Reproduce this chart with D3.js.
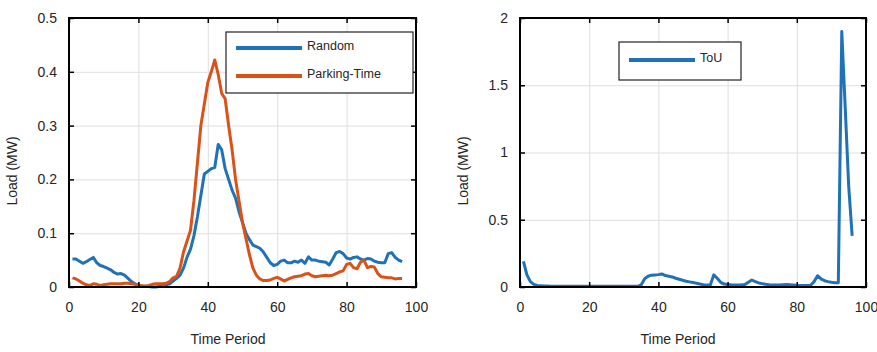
<!DOCTYPE html>
<html>
<head>
<meta charset="utf-8">
<script src="https://cdn.jsdelivr.net/npm/d3@7"></script>
<style>
  body { margin: 0; background: #fff; }
  svg { display: block; font-family: "Liberation Sans", Arial, sans-serif; }
  .tick text { fill: #262626; font-size: 14px; }
  .grid line { stroke: #dfdfdf; stroke-width: 1; }
  .grid path { display: none; }
</style>
</head>
<body>
<div id="chart"></div>
<script>
// time periods 1..96
const periods = d3.range(1, 97);

const randomLoad = [
  0.052, 0.052, 0.048, 0.044, 0.047, 0.051, 0.055, 0.045, 0.040, 0.038,
  0.035, 0.032, 0.027, 0.024, 0.025, 0.022, 0.016, 0.010, 0.006, 0.003,
  0.002, 0.001, 0.001, 0.000, 0.000, 0.001, 0.001, 0.004, 0.006, 0.011,
  0.016, 0.022, 0.035, 0.055, 0.070, 0.095, 0.130, 0.170, 0.210, 0.215,
  0.220, 0.222, 0.265, 0.255, 0.220, 0.200, 0.180, 0.165, 0.140, 0.120,
  0.100, 0.088, 0.078, 0.075, 0.072, 0.065, 0.055, 0.045, 0.040, 0.042,
  0.048, 0.050, 0.045, 0.045, 0.048, 0.046, 0.050, 0.044, 0.056, 0.050,
  0.050, 0.048, 0.047, 0.046, 0.041, 0.052, 0.064, 0.066, 0.062, 0.054,
  0.052, 0.055, 0.056, 0.052, 0.050, 0.053, 0.052, 0.048, 0.046, 0.045,
  0.045, 0.062, 0.064, 0.055, 0.050, 0.047
];

const parkingLoad = [
  0.017, 0.015, 0.011, 0.007, 0.004, 0.003, 0.006, 0.005, 0.003, 0.004,
  0.005, 0.006, 0.006, 0.006, 0.006, 0.007, 0.007, 0.006, 0.005, 0.004,
  0.002, 0.002, 0.003, 0.005, 0.006, 0.006, 0.006, 0.007, 0.010, 0.017,
  0.020, 0.035, 0.065, 0.085, 0.105, 0.160, 0.230, 0.300, 0.340, 0.380,
  0.400, 0.422, 0.395, 0.360, 0.350, 0.300, 0.255, 0.200, 0.160, 0.120,
  0.090, 0.060, 0.035, 0.022, 0.015, 0.012, 0.012, 0.013, 0.016, 0.018,
  0.015, 0.011, 0.014, 0.017, 0.019, 0.020, 0.021, 0.024, 0.025, 0.021,
  0.019, 0.020, 0.021, 0.022, 0.021, 0.022, 0.025, 0.028, 0.030, 0.042,
  0.044, 0.036, 0.034, 0.046, 0.050, 0.036, 0.038, 0.037, 0.025, 0.019,
  0.018, 0.017, 0.017, 0.015, 0.016, 0.016
];

const touLoad = [
  0.190, 0.090, 0.040, 0.020, 0.012, 0.010, 0.008, 0.007, 0.006, 0.006,
  0.006, 0.006, 0.005, 0.005, 0.005, 0.005, 0.005, 0.005, 0.005, 0.005,
  0.005, 0.005, 0.005, 0.005, 0.005, 0.005, 0.005, 0.005, 0.005, 0.005,
  0.005, 0.005, 0.005, 0.005, 0.015, 0.060, 0.080, 0.088, 0.090, 0.092,
  0.097, 0.085, 0.080, 0.075, 0.065, 0.058, 0.050, 0.043, 0.038, 0.033,
  0.028, 0.022, 0.017, 0.014, 0.015, 0.090, 0.065, 0.035, 0.022, 0.018,
  0.016, 0.015, 0.015, 0.016, 0.018, 0.035, 0.052, 0.040, 0.030, 0.025,
  0.020, 0.017, 0.015, 0.014, 0.014, 0.016, 0.018, 0.017, 0.015, 0.013,
  0.012, 0.012, 0.012, 0.013, 0.040, 0.084, 0.060, 0.047, 0.040, 0.035,
  0.032, 0.032, 1.900, 1.330, 0.750, 0.380
];

const xTicks = [0, 20, 40, 60, 80, 100];
const yTicksLeft = [0, 0.1, 0.2, 0.3, 0.4, 0.5];
const yTicksRight = [0, 0.5, 1, 1.5, 2];

const blue = '#1f72b8';
const orange = '#d95319';

const svg = d3.select('#chart').append('svg')
  .attr('width', 877)
  .attr('height', 352);

function drawPanel(opt) {
  const w = opt.right - opt.left;
  const h = opt.bottom - opt.top;
  const g = svg.append('g').attr('transform', `translate(${opt.left},${opt.top})`);

  const x = d3.scaleLinear().domain([0, 100]).range([0, w]);
  const y = d3.scaleLinear().domain(opt.yDomain).range([h, 0]);

  // grid
  g.append('g').attr('class', 'grid')
    .attr('transform', `translate(0,${h})`)
    .call(d3.axisBottom(x).tickValues(xTicks).tickSize(-h).tickFormat(''));
  g.append('g').attr('class', 'grid')
    .call(d3.axisLeft(y).tickValues(opt.yTicks).tickSize(-w).tickFormat(''));

  // lines
  const line = d3.line()
    .x((d, i) => x(periods[i]))
    .y(d => y(d));
  opt.series.forEach(s => {
    g.append('path')
      .datum(s.values)
      .attr('fill', 'none')
      .attr('stroke', s.color)
      .attr('stroke-width', 3)
      .attr('stroke-linejoin', 'round')
      .attr('d', line);
  });

  // axes with inward ticks
  const fmt = d => d3.format('')(d);
  g.append('g').attr('transform', `translate(0,${h})`)
    .call(d3.axisBottom(x).tickValues(xTicks).tickSize(-5).tickPadding(15).tickFormat(fmt));
  g.append('g')
    .call(d3.axisLeft(y).tickValues(opt.yTicks).tickSize(-5).tickPadding(12).tickFormat(fmt));
  g.append('g')
    .call(d3.axisTop(x).tickValues(xTicks).tickSize(-5).tickFormat(''));
  g.append('g').attr('transform', `translate(${w},0)`)
    .call(d3.axisRight(y).tickValues(opt.yTicks).tickSize(-5).tickFormat(''));
  g.selectAll('.domain').remove();
  g.selectAll('.tick line').attr('stroke', '#000').attr('stroke-width', 1.5);

  g.append('rect')
    .attr('width', w).attr('height', h)
    .attr('fill', 'none')
    .attr('stroke', '#000')
    .attr('stroke-width', 2);

  // axis labels
  svg.append('text')
    .attr('x', opt.xLabelX).attr('y', 344)
    .attr('text-anchor', 'middle')
    .attr('font-size', 14)
    .attr('fill', '#262626')
    .text('Time Period');
  svg.append('text')
    .attr('transform', `translate(${opt.yLabelX},171) rotate(-90)`)
    .attr('text-anchor', 'middle')
    .attr('font-size', 14)
    .attr('fill', '#262626')
    .text('Load (MW)');

  // legend
  const lg = svg.append('g');
  lg.append('rect')
    .attr('x', opt.legend.x).attr('y', opt.legend.y)
    .attr('width', opt.legend.w).attr('height', opt.legend.h)
    .attr('fill', '#fff').attr('stroke', '#222').attr('stroke-width', 1.2);
  opt.series.forEach((s, i) => {
    const ly = opt.legend.y + opt.legend.first + i * opt.legend.step;
    lg.append('line')
      .attr('x1', opt.legend.x + 10).attr('x2', opt.legend.x + 76)
      .attr('y1', ly).attr('y2', ly)
      .attr('stroke', s.color).attr('stroke-width', 4);
    lg.append('text')
      .attr('x', opt.legend.x + 81).attr('y', ly - 2)
      .attr('dy', '0.35em')
      .attr('font-size', 12.5)
      .attr('fill', '#262626')
      .text(s.name);
  });
}

drawPanel({
  left: 69, right: 416, top: 18, bottom: 287,
  yDomain: [0, 0.5], yTicks: yTicksLeft,
  xLabelX: 228, yLabelX: 17,
  series: [
    { name: 'Random', values: randomLoad, color: blue },
    { name: 'Parking-Time', values: parkingLoad, color: orange }
  ],
  legend: { x: 226, y: 32, w: 187, h: 61, first: 16, step: 28 }
});

drawPanel({
  left: 520, right: 866, top: 18, bottom: 287,
  yDomain: [0, 2], yTicks: yTicksRight,
  xLabelX: 678, yLabelX: 468,
  series: [
    { name: 'ToU', values: touLoad, color: blue }
  ],
  legend: { x: 619, y: 42, w: 122, h: 38, first: 18, step: 0 }
});
</script>
</body>
</html>
